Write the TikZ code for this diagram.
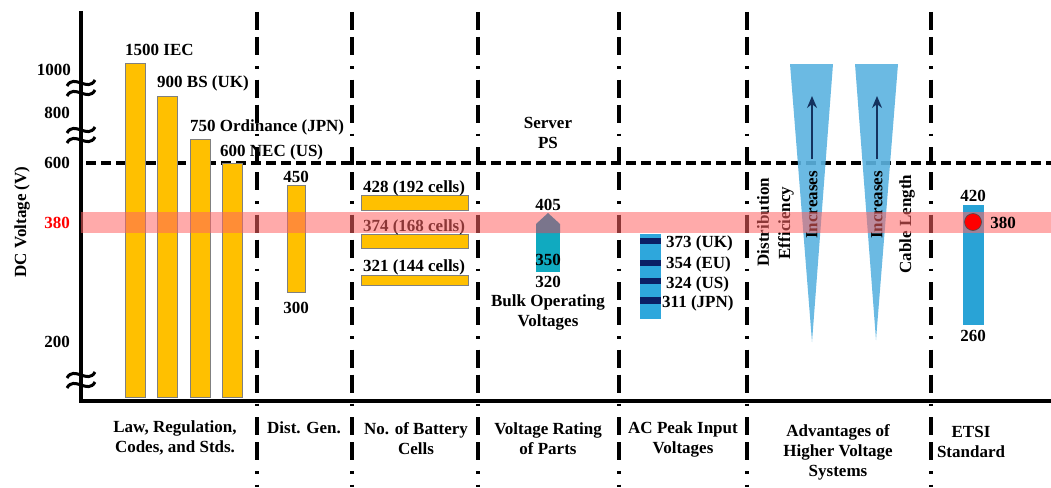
\documentclass[tikz,border=0pt]{standalone}
\usepackage{fontspec}
\setmainfont{Liberation Serif}
\usetikzlibrary{arrows.meta}
\definecolor{barorange}{RGB}{255,192,0}
\definecolor{bandred}{RGB}{255,100,100}
\definecolor{teal2}{RGB}{16,170,192}
\definecolor{graytip}{RGB}{122,117,140}
\definecolor{acblue}{RGB}{46,167,220}
\definecolor{navy}{RGB}{10,30,100}
\definecolor{triblue}{RGB}{91,179,224}
\definecolor{arrnavy}{RGB}{20,50,95}
\definecolor{etsiblue}{RGB}{41,163,214}
\tikzset{
  lbl/.style={font=\bfseries\fontsize{17}{20}\selectfont, inner sep=0pt, align=center},
  orangebar/.style={fill=barorange, draw=gray, line width=0.8},
  vsep/.style={line width=3.3, dash pattern=on 18 off 7 on 18 off 11 on 2.5 off 11},
  hdash/.style={line width=3.3, dash pattern=on 10 off 5},
  brk/.style={line width=3},
}
\begin{document}
\begin{tikzpicture}[x=1pt,y=-1pt]
\useasboundingbox (0,0) rectangle (1051,487);
% vertical separators
\foreach \xx in {257,352,478,619,747,931}{
  \draw[vsep] (\xx,12) -- (\xx,487);
}
% dashed 600 line
\draw[hdash] (86,163) -- (1051,163);
% axes
\draw[line width=3.5] (81,11) -- (81,401) -- (1051,401);
% axis breaks
\foreach \yy in {88,135,380}{
  \foreach \d in {-5,5}{
    \draw[brk] (67,\yy+\d+3) .. controls (74,\yy+\d-10) and (88,\yy+\d+10) .. (95,\yy+\d-3);
  }
}
% tick labels
\node[lbl, anchor=east] (t1000) at (71,70) {1000};
\node[lbl, anchor=east] (t800) at (70,113) {800};
\node[lbl, anchor=east] (t600) at (70,163) {600};
\node[lbl, anchor=east, text=red] (t380) at (70,223) {380};
\node[lbl, anchor=east] (t200) at (70,342) {200};
\node[lbl, rotate=90] (ylab) at (22,222) {DC Voltage (V)};
% law bars
\draw[orangebar] (125,63) rectangle (145,397);
\draw[orangebar] (157,96) rectangle (177,397);
\draw[orangebar] (190,139) rectangle (210,397);
\draw[orangebar] (222,163) rectangle (242,397);
\node[lbl, anchor=west] (iec) at (125,50) {1500 IEC};
\node[lbl, anchor=west] (bs) at (157,83) {900 BS (UK)};
\node[lbl, anchor=west] (ord) at (190,127) {750 Ordinance (JPN)};
\node[lbl, anchor=west] (nec) at (220,152) {600 NEC (US)};
% dist gen
\draw[orangebar] (287,185) rectangle (305,292);
\node[lbl] (dg450) at (296,177) {450};
\node[lbl] (dg300) at (296,308) {300};
% battery cells
\draw[orangebar] (361,195) rectangle (468,210);
\draw[orangebar] (361,234) rectangle (468,248);
\draw[orangebar] (361,275) rectangle (468,285);
\node[lbl] (b428) at (414,188) {428 (192 cells)};
\node[lbl] (b374) at (414,227) {374 (168 cells)};
\node[lbl] (b321) at (414,267) {321 (144 cells)};
% voltage rating of parts
\node[lbl] (server) at (548,133) {Server\\PS};
\fill[teal2] (536,232) rectangle (560,272);
\node[lbl] (v405) at (548,205) {405};
\node[lbl] (v350) at (548,260) {350};
\node[lbl] (v320) at (548,282) {320};
\node[lbl] (bulk) at (548,312) {Bulk Operating\\Voltages};
% AC peak
\fill[acblue] (640,234) rectangle (661,319);
\foreach \ya/\yb in {238/244,260/266,278/284,297/304}{
  \fill[navy] (640,\ya) rectangle (661,\yb);
}
\node[lbl, anchor=west] (uk) at (666,243) {373 (UK)};
\node[lbl, anchor=west] (eu) at (666,264) {354 (EU)};
\node[lbl, anchor=west] (us) at (666,284) {324 (US)};
\node[lbl, anchor=west] (jpn) at (662,303) {311 (JPN)};
% advantages triangles
\fill[triblue, opacity=0.9] (790,64) -- (833,64) -- (812,342) -- cycle;
\fill[triblue, opacity=0.9] (855,64) -- (898,64) -- (876,340) -- cycle;
\coordinate (a1s) at (812,159);
\coordinate (a1e) at (812,96);
\coordinate (a2s) at (877,159);
\coordinate (a2e) at (877,96);
\draw[arrnavy, line width=1.6, -{Stealth[length=12pt,width=10pt]}] (a1s) -- (a1e);
\draw[arrnavy, line width=1.6, -{Stealth[length=12pt,width=10pt]}] (a2s) -- (a2e);
\node[lbl, rotate=90] (dist) at (763,222) {Distribution};
\node[lbl, rotate=90] (eff) at (786,223) {Efficiency};
\node[lbl, rotate=90] (inc1) at (812,205) {Increases};
\node[lbl, rotate=90] (inc2) at (877,205) {Increases};
\node[lbl, rotate=90] (cable) at (907,224) {Cable Length};
% ETSI
\fill[etsiblue] (963,205) rectangle (984,325);
\node[lbl] (e420) at (973,196) {420};
\node[lbl] (e260) at (973,336) {260};
% band
\fill[bandred, opacity=0.55] (81,212) rectangle (1051,233);
% gray tip on top
\fill[graytip] (536,233) -- (536,224) -- (548,213) -- (560,224) -- (560,233) -- cycle;
% ETSI dot
\node[circle, fill=red, draw=black!70, line width=0.6, minimum size=17pt, inner sep=0pt] (dot) at (973,222) {};
\node[lbl] (e380) at (1003,223) {380};
% bottom labels
\node[lbl] (c1) at (175,438) {Law, Regulation,\\Codes, and Stds.};
\node[lbl] (c2) at (304,428) {Dist. Gen.};
\node[lbl] (c3) at (416,439) {No. of Battery\\Cells};
\node[lbl] (c4) at (548,439) {Voltage Rating\\of Parts};
\node[lbl] (c5) at (683,439) {AC Peak Input\\Voltages};
\node[lbl] (c6) at (838,452) {Advantages of\\Higher Voltage\\Systems};
\node[lbl] (c7) at (971,442) {ETSI\\Standard};
\end{tikzpicture}
\end{document}
